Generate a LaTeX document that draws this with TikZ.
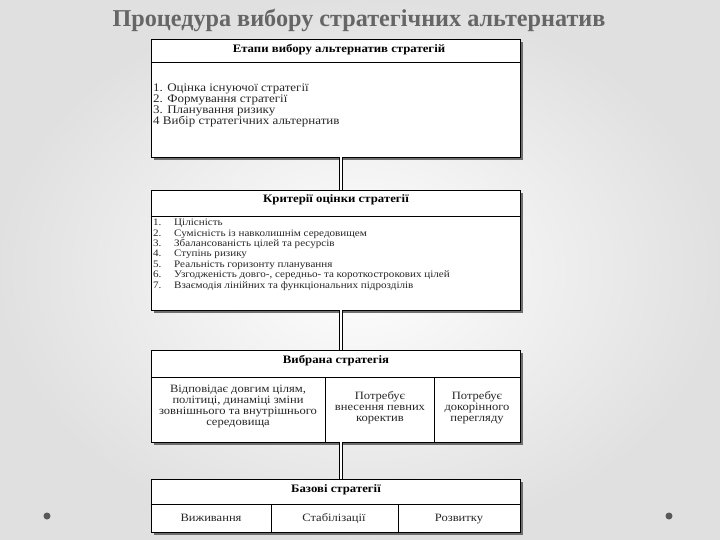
\documentclass[tikz,border=0pt]{standalone}
\usepackage{fontspec}
\setmainfont{Liberation Serif}
\newfontfamily\widefont[FakeStretch=1.12]{Liberation Serif}
\usetikzlibrary{shadows,calc}
\begin{document}
\begin{tikzpicture}[x=1pt,y=-1pt,
  box/.style={draw=black, line width=0.9pt, fill=white, rectangle, inner sep=0pt,
    drop shadow={shadow xshift=2.6pt, shadow yshift=-2.6pt, opacity=0.85, fill=black!65}},
  rule/.style={draw=black, line width=0.8pt},
  hdr/.style={font=\widefont\bfseries\fontsize{11.4}{12}\selectfont, text=black, inner sep=0pt},
  body/.style={font=\widefont\fontsize{11.6}{11}\selectfont, align=left, text=black!85, inner sep=0pt},
  cell/.style={font=\widefont\fontsize{11.2}{11}\selectfont, align=center, text=black!85, inner sep=0pt},
  link/.style={draw=black, double=white, double distance=1.2pt, line width=1.1pt},
  dot/.style={circle, fill=black!65, inner sep=0pt, minimum size=7pt}
]
\useasboundingbox (0,0) rectangle (720,540);
\shade[inner color=white, outer color=black!12] (0,0) rectangle (720,540);

\node[font=\bfseries\fontsize{24.2}{27}\selectfont, text=black!60, inner sep=0pt] (title) at (359,20) {Процедура вибору стратегічних альтернатив};

\coordinate (cx) at (341,0);

% boxes
\node[box, minimum width=369pt, minimum height=118pt] (b1) at (335.5,98) {};
\node[box, minimum width=369pt, minimum height=120pt] (b2) at (335.5,250) {};
\node[box, minimum width=369pt, minimum height=92pt] (b3) at (335.5,396) {};
\node[box, minimum width=369pt, minimum height=53pt] (b4) at (335.5,505.5) {};

% connectors
\draw[link] (b1.south -| cx) -- (b2.north -| cx);
\draw[link] (b2.south -| cx) -- (b3.north -| cx);
\draw[link] (b3.south -| cx) -- (b4.north -| cx);

% dividers
\draw[rule] (b1.west |- 0,62) -- (b1.east |- 0,62);
\draw[rule] (b2.west |- 0,216) -- (b2.east |- 0,216);
\draw[rule] (b3.west |- 0,377) -- (b3.east |- 0,377);
\draw[rule] (325,377) -- (325,442);
\draw[rule] (434,377) -- (434,442);
\draw[rule] (b4.west |- 0,504) -- (b4.east |- 0,504);
\draw[rule] (271,504) -- (271,532);
\draw[rule] (398,504) -- (398,532);

% headers
\node[hdr] (h1) at (339,50) {Етапи вибору альтернатив стратегій};
\node[hdr] (h2) at (336,200) {Критерії оцінки стратегії};
\node[hdr] (h3) at (336,361) {Вибрана стратегія};
\node[hdr] (h4) at (336,490) {Базові стратегії};

% box 1 list
\node[body, anchor=north west] (l1) at (153,84) {1. Оцінка існуючої стратегії\\2. Формування стратегії\\3. Планування ризику\\4 Вибір стратегічних альтернатив};

% box 2 list
\node[body, anchor=north west, font=\widefont\fontsize{9.9}{10.4}\selectfont] (l2) at (153,219) {%
\makebox[21pt][l]{1.}Цілісність\\
\makebox[21pt][l]{2.}Сумісність із навколишнім середовищем\\
\makebox[21pt][l]{3.}Збалансованість цілей та ресурсів\\
\makebox[21pt][l]{4.}Ступінь ризику\\
\makebox[21pt][l]{5.}Реальність горизонту планування\\
\makebox[21pt][l]{6.}Узгодженість довго-, середньо- та короткострокових цілей\\
\makebox[21pt][l]{7.}Взаємодія лінійних та функціональних підрозділів};

% box 3 cells
\node[cell] (c1) at (238,406.5) {Відповідає довгим цілям,\\політиці, динаміці зміни\\зовнішнього та внутрішнього\\середовища};
\node[cell] (c2) at (380,408) {Потребує\\внесення певних\\коректив};
\node[cell] (c3) at (477,408) {Потребує\\докорінного\\перегляду};

% box 4 cells
\node[cell, anchor=base] (d1) at (211,521.5) {Виживання};
\node[cell, anchor=base] (d2) at (334,521.5) {Стабілізації};
\node[cell, anchor=base] (d3) at (459,521.5) {Розвитку};

% decorative dots
\node[dot] (p1) at (47,516) {};
\node[dot] (p2) at (669,516) {};
\end{tikzpicture}
\end{document}
